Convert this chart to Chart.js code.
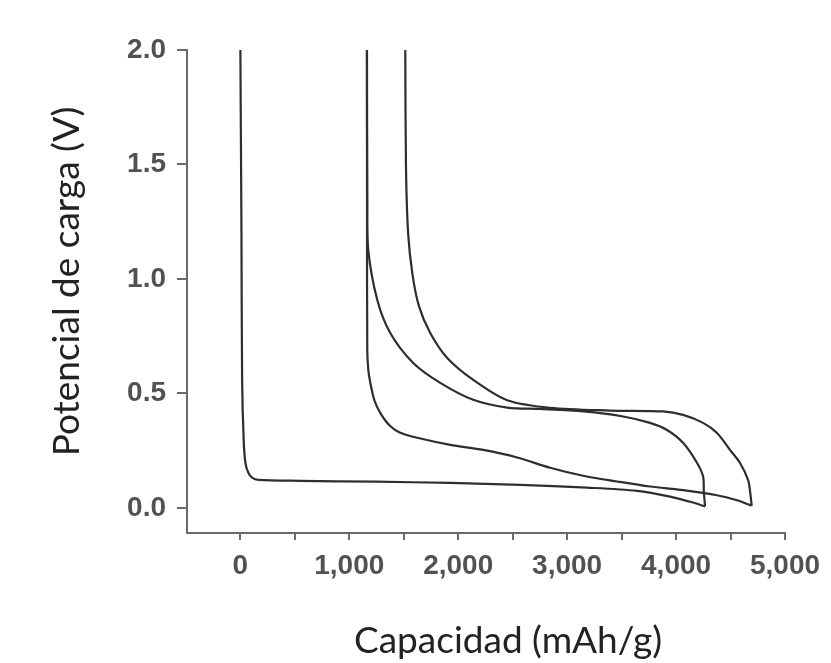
<!DOCTYPE html>
<html>
<head>
<meta charset="utf-8">
<script src="https://cdn.jsdelivr.net/npm/chart.js@4/dist/chart.umd.min.js"></script>
<style>
  html, body { margin: 0; padding: 0; background: #ffffff; }
  #wrap { width: 831px; height: 663px; position: relative; }
</style>
</head>
<body>
<div id="wrap"><canvas id="c" width="831" height="663"></canvas></div>
<script>
// Tick values
const xTickValues = [0, 500, 1000, 1500, 2000, 2500, 3000, 3500, 4000, 4500, 5000];
const yTickValues = [0, 0.5, 1.0, 1.5, 2.0];

// Curve A: first lithiation (2.0 V -> ~0 V)
const aCap  = [0, 10, 16, 30, 46, 73, 110, 165, 550, 1239, 1927, 2569, 3183, 3642, 3945, 4156, 4266];
const aVolt = [2.0, 1.2, 0.56, 0.30, 0.197, 0.153, 0.131, 0.122, 0.118, 0.114, 0.109, 0.100, 0.088, 0.074, 0.049, 0.023, 0.006];

// Curve B: first delithiation (back to ~1160 mAh/g)
const bCap  = [4266, 4255, 4248, 4193, 4064, 3917, 3761, 3514, 3147, 2752, 2450, 2138, 1835, 1587, 1376, 1257, 1174, 1165, 1162];
const bVolt = [0.006, 0.07, 0.137, 0.196, 0.284, 0.34, 0.371, 0.399, 0.421, 0.432, 0.438, 0.472, 0.546, 0.633, 0.764, 0.908, 1.127, 1.345, 2.0];

// Curve C: second lithiation
const cCap  = [1162, 1163, 1165, 1175, 1193, 1230, 1284, 1370, 1468, 1624, 1927, 2229, 2541, 2844, 3147, 3459, 3761, 4064, 4376, 4560, 4679, 4694];
const cVolt = [2.0, 1.3, 0.69, 0.6, 0.546, 0.47, 0.415, 0.36, 0.328, 0.306, 0.275, 0.253, 0.22, 0.175, 0.14, 0.115, 0.093, 0.077, 0.055, 0.033, 0.012, 0.009];

// Curve D: second delithiation (back to ~1515 mAh/g)
const dCap  = [4694, 4680, 4661, 4587, 4495, 4376, 4248, 4064, 3881, 3394, 2844, 2450, 2138, 1899, 1743, 1640, 1580, 1540, 1520, 1514];
const dVolt = [0.009, 0.07, 0.122, 0.196, 0.253, 0.327, 0.371, 0.406, 0.421, 0.425, 0.437, 0.47, 0.559, 0.655, 0.764, 0.88, 1.02, 1.2, 1.5, 2.0];

function pts(xs, ys) { return xs.map((x, i) => ({ x: x, y: ys[i] })); }

const lineColor = '#2e2e2e';
function ds(label, xs, ys) {
  return {
    label: label,
    data: pts(xs, ys),
    showLine: true,
    borderColor: lineColor,
    borderWidth: 2.2,
    pointRadius: 0,
    tension: 0.3,
    fill: false,
    clip: false
  };
}

// shift an axis title by (dx, dy) pixels, still drawn by Chart.js
function shiftTitle(s, dx, dy) {
  if (s._titleShifted) return;
  const orig = s.drawTitle.bind(s);
  s.drawTitle = function () {
    this.ctx.save();
    this.ctx.translate(dx, dy);
    orig();
    this.ctx.restore();
  };
  s._titleShifted = true;
}

const axisColor = '#6a6a6a';
const tickFont = { family: "'Liberation Sans', Arial, sans-serif", size: 28, weight: 'bold' };
const titleFont = { family: "Lato, 'Open Sans', sans-serif", size: 37 };

new Chart(document.getElementById('c'), {
  type: 'scatter',
  data: {
    datasets: [
      ds('1st lithiation', aCap, aVolt),
      ds('1st delithiation', bCap, bVolt),
      ds('2nd lithiation', cCap, cVolt),
      ds('2nd delithiation', dCap, dVolt)
    ]
  },
  options: {
    responsive: false,
    animation: false,
    layout: { padding: { left: 0, top: 50, right: 46, bottom: 0 } },
    plugins: { legend: { display: false }, tooltip: { enabled: false } },
    scales: {
      x: {
        type: 'linear',
        min: -490,
        max: 5000,
        afterFit: (s) => { s.height = 130; shiftTitle(s, 22, 0); },
        afterBuildTicks: (s) => { s.ticks = xTickValues.map(v => ({ value: v })); },
        border: { display: true, color: axisColor, width: 2 },
        grid: { drawOnChartArea: false, drawTicks: true, tickLength: 7, color: axisColor, lineWidth: 2 },
        ticks: {
          padding: 9,
          color: '#525252',
          font: tickFont,
          maxRotation: 0,
          autoSkip: false,
          callback: (v) => (v % 1000 === 0 ? v.toLocaleString('en-US') : '')
        },
        title: {
          display: true,
          text: 'Capacidad (mAh/g)',
          color: '#222',
          font: titleFont,
          padding: { top: 0, bottom: 0 }
        }
      },
      y: {
        type: 'linear',
        min: -0.11,
        max: 2.0,
        afterFit: (s) => { s.width = 187; shiftTitle(s, 0, -10); },
        afterBuildTicks: (s) => { s.ticks = yTickValues.map(v => ({ value: v })); },
        border: { display: true, color: axisColor, width: 2 },
        grid: { drawOnChartArea: false, drawTicks: true, tickLength: 10, color: axisColor, lineWidth: 2 },
        ticks: {
          padding: 11,
          color: '#525252',
          font: tickFont,
          autoSkip: false,
          callback: (v) => Number(v).toFixed(1)
        },
        title: {
          display: true,
          text: 'Potencial de carga (V)',
          color: '#222',
          font: titleFont,
          padding: { top: 45, bottom: 0 }
        }
      }
    }
  }
});
</script>
</body>
</html>
